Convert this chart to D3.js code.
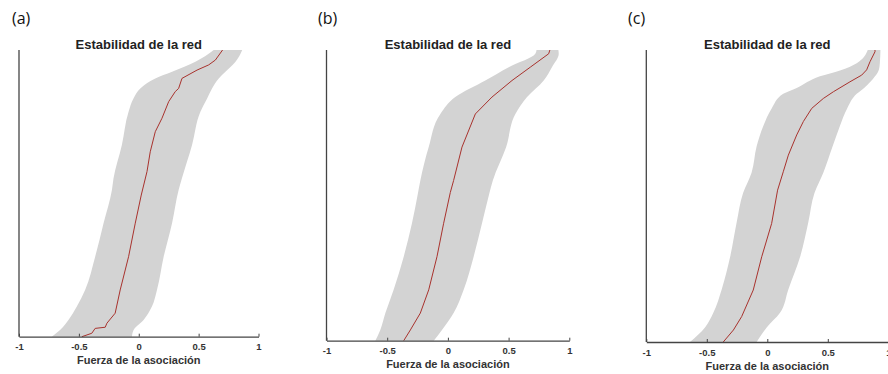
<!DOCTYPE html>
<html>
<head>
<meta charset="utf-8">
<script src="https://cdn.jsdelivr.net/npm/d3@7"></script>
<style>
  body { margin: 0; background: #fff; }
  svg { display: block; }
</style>
</head>
<body>
<svg id="chart" width="888" height="374"></svg>
<script>
// *** Datos ***
var panelLabels = ["(a)", "(b)", "(c)"];
var chartTitle = "Estabilidad de la red";
var xAxisTitle = "Fuerza de la asociación";
var xTicks = [-1, -0.5, 0, 0.5, 1];
var xTickLabels = ["-1", "-0.5", "0", "0.5", "1"];

// rango (percentil de las aristas ordenadas), banda gris inferior / superior
var bandRankA = [0, 2.3, 5.8, 10.5, 16.3, 27.9, 39.6, 51.2, 55.2, 66.9, 78.5, 83.1, 86.6, 90.1, 92.4, 95.9, 100];
var lowA = [-0.726, -0.657, -0.587, -0.517, -0.448, -0.364, -0.294, -0.224, -0.211, -0.141, -0.085, -0.044, 0.013, 0.138, 0.278, 0.473, 0.626];
var highA = [-0.057, -0.043, 0.04, 0.11, 0.152, 0.208, 0.278, 0.333, 0.36, 0.445, 0.515, 0.571, 0.612, 0.668, 0.724, 0.808, 0.864];
var lineRankA = [0, 1.2, 2.9, 3.3, 4.7, 8.2, 16.3, 27.9, 39.6, 49.4, 57.6, 64.5, 71.5, 76.2, 82.0, 85.5, 86.6, 90.1, 93.0, 94.8, 96.5, 100];
var meanA = [-0.475, -0.392, -0.364, -0.28, -0.266, -0.197, -0.155, -0.085, -0.029, 0.021, 0.069, 0.096, 0.138, 0.194, 0.25, 0.305, 0.333, 0.361, 0.487, 0.584, 0.64, 0.70];

var bandRankB = [0, 3.7, 9.5, 17.5, 28.9, 40.4, 50.5, 55.1, 66.6, 78.0, 83.8, 89.5, 94.1, 98.7, 100];
var lowB = [-0.598, -0.557, -0.515, -0.447, -0.364, -0.296, -0.248, -0.227, -0.158, -0.062, 0.061, 0.308, 0.501, 0.72, 0.73];
var highB = [-0.117, -0.049, 0.047, 0.13, 0.212, 0.281, 0.34, 0.37, 0.48, 0.556, 0.652, 0.789, 0.857, 0.913, 0.91];
var lineRankB = [0, 3.7, 9.5, 17.5, 28.9, 40.4, 51, 55.1, 66.6, 78.0, 83.8, 89.5, 94.1, 98.7, 100];
var meanB = [-0.364, -0.309, -0.227, -0.158, -0.09, -0.035, 0.02, 0.047, 0.116, 0.226, 0.363, 0.528, 0.679, 0.83, 0.84];

var bandRankC = [0, 5, 10, 18, 29, 41, 51, 58, 67, 74, 80, 85, 87, 91, 93, 95.5, 100];
var lowC = [-0.639, -0.515, -0.446, -0.377, -0.308, -0.253, -0.2, -0.13, -0.088, -0.033, 0.036, 0.132, 0.243, 0.435, 0.601, 0.739, 0.83];
var highC = [-0.088, -0.005, 0.105, 0.174, 0.27, 0.339, 0.39, 0.463, 0.54, 0.6, 0.66, 0.739, 0.8, 0.89, 0.92, 0.93, 0.935];
var lineRankC = [0, 4.1, 8.7, 17.8, 29.2, 40.6, 52, 58.3, 64, 70.9, 75.5, 80, 83.4, 85.7, 89.1, 91.4, 93.2, 96, 99.4, 100];
var meanC = [-0.364, -0.28, -0.212, -0.116, -0.046, 0.036, 0.085, 0.132, 0.174, 0.243, 0.298, 0.367, 0.463, 0.546, 0.683, 0.78, 0.821, 0.849, 0.89, 0.89];

// *** Posición de cada panel ***
var panels = [
    { label: panelLabels[0], labelX: 12, left: 19, right: 258.5, top: 50, bottom: 336.7,
      bandRank: bandRankA, low: lowA, high: highA, lineRank: lineRankA, mean: meanA },
    { label: panelLabels[1], labelX: 318, left: 326.5, right: 569.3, top: 50, bottom: 340.7,
      bandRank: bandRankB, low: lowB, high: highB, lineRank: lineRankB, mean: meanB },
    { label: panelLabels[2], labelX: 628, left: 646.3, right: 888.3, top: 50, bottom: 342,
      bandRank: bandRankC, low: lowC, high: highC, lineRank: lineRankC, mean: meanC }
];

var svg = d3.select("#chart");

panels.forEach(function (p) {
    var x = d3.scaleLinear().domain([-1, 1]).range([p.left, p.right]);
    var y = d3.scaleLinear().domain([0, 100]).range([p.bottom, p.top]);

    var g = svg.append("g");

    // banda gris
    var band = p.bandRank.map(function (r, i) {
        return { r: r, lo: p.low[i], hi: p.high[i] };
    });
    var area = d3.area()
        .y(function (d) { return y(d.r); })
        .x0(function (d) { return x(d.lo); })
        .x1(function (d) { return x(d.hi); })
        .curve(d3.curveMonotoneY);
    g.append("path")
        .datum(band)
        .attr("d", area)
        .attr("fill", "#d3d3d3");

    // línea media
    var line = p.lineRank.map(function (r, i) {
        return { r: r, v: p.mean[i] };
    });
    g.append("path")
        .datum(line)
        .attr("d", d3.line()
            .y(function (d) { return y(d.r); })
            .x(function (d) { return x(d.v); }))
        .attr("fill", "none")
        .attr("stroke", "#a8322d")
        .attr("stroke-width", 1);

    // eje x
    var xAxis = d3.axisBottom(x)
        .tickValues(xTicks)
        .tickFormat(function (d, i) { return xTickLabels[i]; })
        .tickSizeInner(-3)
        .tickSizeOuter(0)
        .tickPadding(7);
    var ax = g.append("g")
        .attr("transform", "translate(0," + p.bottom + ")")
        .call(xAxis);
    ax.select(".domain").attr("stroke", "#444").attr("stroke-width", 1.3);
    ax.selectAll(".tick line").attr("stroke", "#444").attr("stroke-width", 1);
    ax.selectAll(".tick text")
        .attr("fill", "#333")
        .style("font-family", "'Liberation Sans', Arial, sans-serif")
        .style("font-size", "9.5px")
        .style("font-weight", "bold");

    // eje y (sin marcas)
    g.append("line")
        .attr("x1", p.left).attr("x2", p.left)
        .attr("y1", p.top).attr("y2", p.bottom)
        .attr("stroke", "#444")
        .attr("stroke-width", 1.3);

    // títulos
    g.append("text")
        .attr("x", x(0))
        .attr("y", p.top - 1.5)
        .attr("text-anchor", "middle")
        .attr("fill", "#222")
        .style("font-family", "'Liberation Sans', Arial, sans-serif")
        .style("font-size", "13px")
        .style("font-weight", "bold")
        .text(chartTitle);

    g.append("text")
        .attr("x", x(0))
        .attr("y", p.bottom + 27.5)
        .attr("text-anchor", "middle")
        .attr("fill", "#333")
        .style("font-family", "'Liberation Sans', Arial, sans-serif")
        .style("font-size", "11px")
        .style("font-weight", "bold")
        .text(xAxisTitle);

    g.append("text")
        .attr("x", p.labelX)
        .attr("y", 23.5)
        .attr("fill", "#111")
        .style("font-family", "'Open Sans', sans-serif")
        .style("font-size", "16px")
        .text(p.label);
});
</script>
</body>
</html>
